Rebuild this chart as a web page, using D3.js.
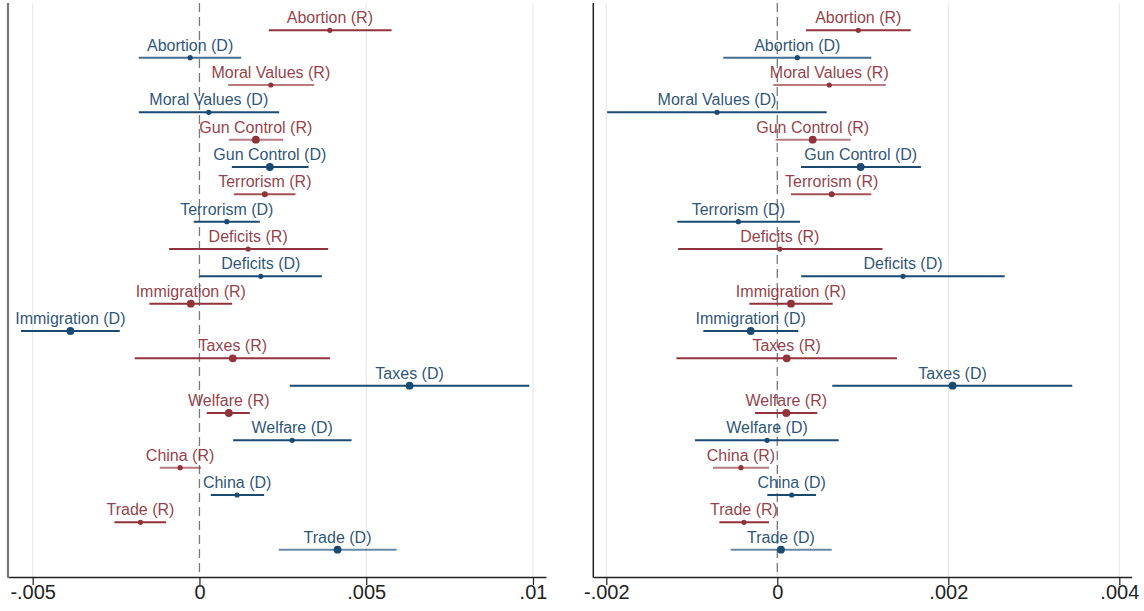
<!DOCTYPE html>
<html><head><meta charset="utf-8">
<script src="https://cdn.jsdelivr.net/npm/d3@7"></script>
<style>
body{margin:0;background:#fff;}
svg{display:block;font-family:"Liberation Sans",Arial,sans-serif;}
</style></head>
<body><svg id="c" width="1144" height="611"></svg>
<script>
const labels = ["Abortion (R)","Abortion (D)","Moral Values (R)","Moral Values (D)","Gun Control (R)","Gun Control (D)",
  "Terrorism (R)","Terrorism (D)","Deficits (R)","Deficits (D)","Immigration (R)","Immigration (D)",
  "Taxes (R)","Taxes (D)","Welfare (R)","Welfare (D)","China (R)","China (D)","Trade (R)","Trade (D)"];
const party = ["R","D","R","D","R","D","R","D","R","D","R","D","R","D","R","D","R","D","R","D"];

const leftEst = [0.00391,-0.00028,0.00214,0.00028,0.00169,0.00211,0.00196,0.00082,0.00146,0.00184,
  -0.00026,-0.00387,0.00100,0.00630,0.00088,0.00278,-0.00058,0.00113,-0.00177,0.00414];
const leftLo = [0.00208,-0.00182,0.00086,-0.00182,0.00089,0.00097,0.00103,-0.00017,-0.00091,0.00000,
  -0.00150,-0.00535,-0.00194,0.00271,0.00022,0.00101,-0.00119,0.00034,-0.00255,0.00238];
const leftHi = [0.00576,0.00125,0.00344,0.00239,0.00251,0.00327,0.00288,0.00181,0.00386,0.00367,
  0.00098,-0.00239,0.00392,0.00989,0.00151,0.00456,0.00005,0.00194,-0.00100,0.00591];

const rightEst = [0.000947,0.000234,0.000608,-0.000705,0.000414,0.000975,0.000636,-0.000456,0.000030,0.001470,
  0.000160,-0.000311,0.000110,0.002050,0.000105,-0.000120,-0.000425,0.000168,-0.000390,0.000043];
const rightLo = [0.000336,-0.000632,-0.000047,-0.001990,-0.000020,0.000277,0.000160,-0.001170,-0.001160,0.000280,
  -0.000327,-0.000865,-0.001180,0.000643,-0.000260,-0.000963,-0.000752,-0.000117,-0.000678,-0.000545];
const rightHi = [0.001560,0.001100,0.001270,0.000578,0.000858,0.001680,0.001100,0.000265,0.001230,0.002660,
  0.000648,0.000246,0.001400,0.003450,0.000468,0.000718,-0.000097,0.000453,-0.000097,0.000636];

// marker weight (1 = small, 2 = large) and line shade (1 = full, lower = lighter)
const markerWeight = [1,1,1,1,2,2,1.3,1,1,1,2,2,2,2,2,1,1,1,1,2];
const lineShade = [1,0.8,0.65,1,0.65,1,0.85,1,1,1,1,1,1,1,1,1,0.65,1,1,0.65];

const leftTicks = [-0.005,0,0.005,0.01];
const leftTickLabels = ["-.005","0",".005",".01"];
const rightTicks = [-0.002,0,0.002,0.004];
const rightTickLabels = ["-.002","0",".002",".004"];

const colors = {R:"#90333b", D:"#1a4a72"};
const svg = d3.select("#c");
const y = d3.scaleLinear().domain([-1, 20]).range([3, 577]);
const rows = labels.map((l,i)=>i);

function panel(xDomain, xRange, est, lo, hi, ticks, tickLabels, axisColor, axisW){
  const x = d3.scaleLinear().domain(xDomain).range(xRange);
  const g = svg.append("g");
  // gridlines
  g.selectAll("line.grid").data(ticks.filter(t=>t!==0)).join("line")
    .attr("x1",d=>x(d)).attr("x2",d=>x(d)).attr("y1",y(-1)).attr("y2",y(20))
    .attr("stroke","#e4e4e4").attr("stroke-width",1);
  // zero dashed line
  g.append("line").attr("x1",x(0)).attr("x2",x(0)).attr("y1",y(-1)).attr("y2",y(20))
    .attr("stroke","#7a7a7a").attr("stroke-width",1.3).attr("stroke-dasharray","9,5");
  // x axis
  const ax = d3.axisBottom(x).tickValues(ticks).tickFormat((d,i)=>tickLabels[i]).tickSize(8).tickSizeOuter(0);
  const axg = g.append("g").attr("transform",`translate(0,${y(20)})`).call(ax);
  axg.select(".domain").attr("stroke","#222").attr("stroke-width",1.5);
  axg.selectAll(".tick line").attr("stroke","#222").attr("stroke-width",1.2);
  axg.selectAll(".tick text").attr("font-size",20).attr("fill","#222").attr("dy","0.55em")
    .attr("font-family","'Liberation Sans',Arial,sans-serif");
  // left axis line
  g.append("line").attr("x1",xRange[0]).attr("x2",xRange[0]).attr("y1",y(-1)).attr("y2",y(20)+0.75)
    .attr("stroke",axisColor).attr("stroke-width",axisW);
  // CI lines
  g.selectAll("line.ci").data(rows).join("line")
    .attr("x1",i=>x(lo[i])).attr("x2",i=>x(hi[i])).attr("y1",i=>y(i)).attr("y2",i=>y(i))
    .attr("stroke",i=>colors[party[i]]).attr("stroke-opacity",i=>lineShade[i]).attr("stroke-width",2);
  // points
  g.selectAll("circle.pt").data(rows).join("circle")
    .attr("cx",i=>x(est[i])).attr("cy",i=>y(i)).attr("r",i=>1.3+1.3*markerWeight[i])
    .attr("fill",i=>colors[party[i]]);
  // labels
  g.selectAll("text.lab").data(rows).join("text")
    .attr("x",i=>x(est[i])).attr("y",i=>y(i)-7).attr("text-anchor","middle")
    .attr("font-size",16).attr("fill",i=>colors[party[i]]).attr("fill-opacity",0.95)
    .text(i=>labels[i]);
}

panel([-0.00574,0.01039],[8,546],leftEst,leftLo,leftHi,leftTicks,leftTickLabels,"#777",2.2);
panel([-0.002152,0.004145],[593.3,1131.7],rightEst,rightLo,rightHi,rightTicks,rightTickLabels,"#222",1.5);
</script></body></html>
